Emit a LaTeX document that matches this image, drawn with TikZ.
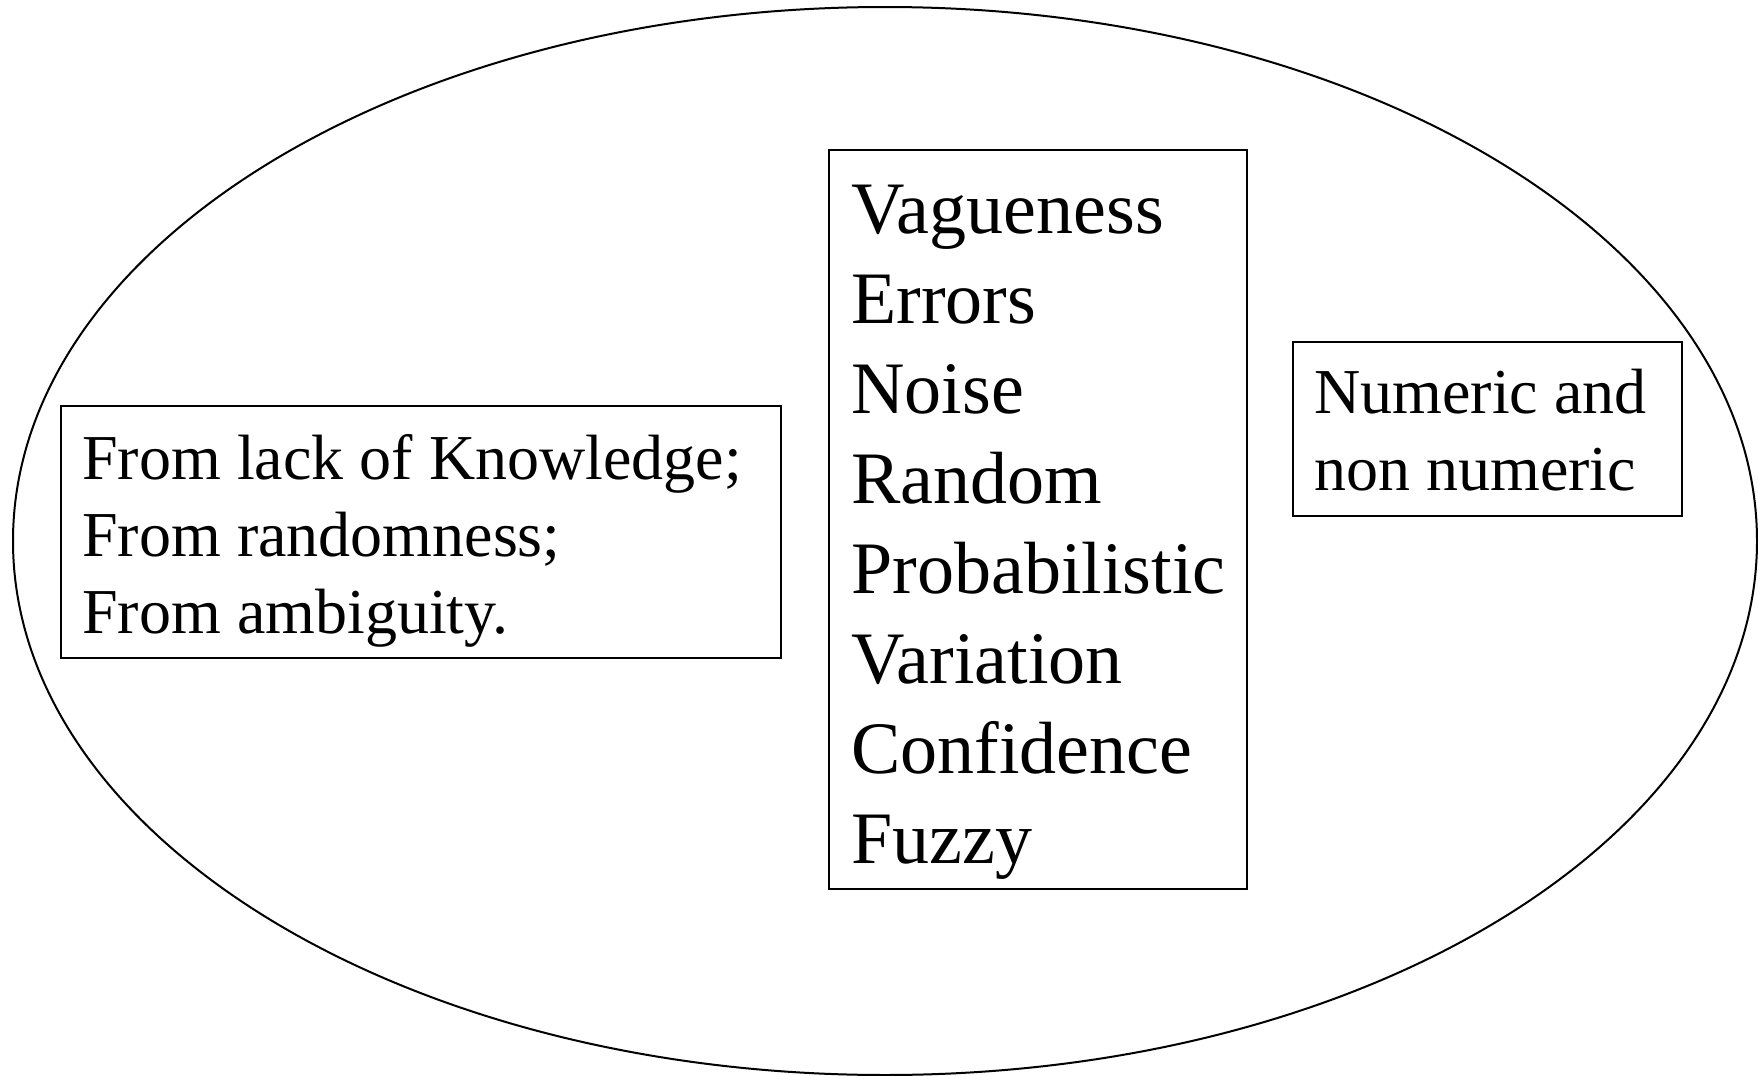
\documentclass[tikz,border=0pt]{standalone}
\usepackage{fontspec}
\setmainfont{Liberation Serif}
\begin{document}
\begin{tikzpicture}[x=0.5pt,y=-0.5pt,
  frame/.style={draw=black,line width=1pt,rectangle,inner sep=0pt},
  small/.style={font=\fontsize{32}{38.5}\selectfont,align=left,anchor=base west,inner sep=0pt},
  big/.style={font=\fontsize{37}{45}\selectfont,align=left,anchor=base west,inner sep=0pt}]
\useasboundingbox (0,0) rectangle (1758,1076);
\fill[white] (0,0) rectangle (1758,1076);
\draw[line width=1pt] (885,541) ellipse [x radius=436pt, y radius=267pt];
\node[frame,minimum width=360.25pt,minimum height=126pt] (leftbox) at (420.75,532) {};
\node[frame,minimum width=209pt,minimum height=369.75pt] (midbox) at (1037.5,519.25) {};
\node[frame,minimum width=194.25pt,minimum height=87pt] (rightbox) at (1487.25,429) {};
\node[small] (lefttext) at (82,633) {From lack of Knowledge;\\From randomness;\\From ambiguity.};
\node[big] (midtext) at (851,863) {Vagueness\\Errors\\Noise\\Random\\Probabilistic\\Variation\\Confidence\\Fuzzy};
\node[small] (righttext) at (1314,490) {Numeric and\\non numeric};
\end{tikzpicture}
\end{document}
